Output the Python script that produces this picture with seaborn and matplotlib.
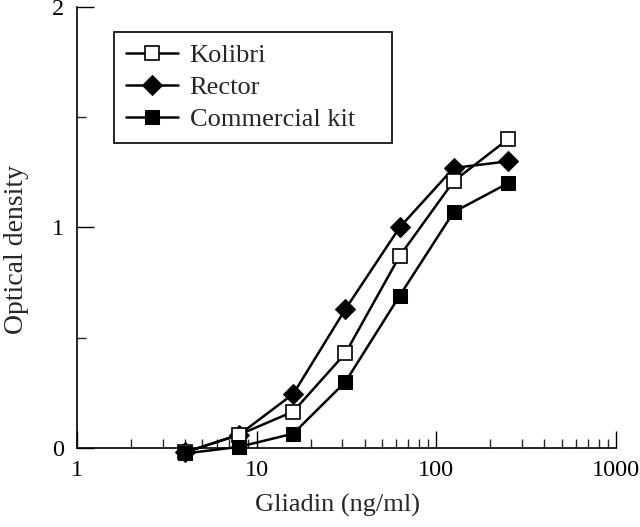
import matplotlib
matplotlib.use("Agg")
import matplotlib.pyplot as plt
import seaborn as sns
import pandas as pd
from matplotlib.ticker import FixedLocator, NullFormatter, LogLocator

sns.set_style("ticks")
plt.rcParams['font.family'] = ['Liberation Serif', 'DejaVu Serif']

x_kolibri = [4, 8, 16, 31.25, 62.5, 125, 250]
y_kolibri = [-0.02, 0.06, 0.165, 0.43, 0.87, 1.21, 1.40]
x_rector = [4, 8, 16, 31.25, 62.5, 125, 250]
y_rector = [-0.02, 0.06, 0.245, 0.63, 1.00, 1.27, 1.30]
x_kit = [4, 8, 16, 31.25, 62.5, 125, 250]
y_kit = [-0.025, 0.005, 0.065, 0.30, 0.69, 1.07, 1.20]

series = [
    ("Kolibri", x_kolibri, y_kolibri, dict(marker="s", markersize=9.5, markerfacecolor="white", markeredgecolor="black", markeredgewidth=1.2), 2),
    ("Rector", x_rector, y_rector, dict(marker="D", markersize=10, markerfacecolor="black", markeredgecolor="black"), 1),
    ("Commercial kit", x_kit, y_kit, dict(marker="s", markersize=9.5, markerfacecolor="black", markeredgecolor="black"), 3),
]

fig = plt.figure(figsize=(6.4, 5.27), dpi=100)
ax = fig.add_axes([0.12, 0.15, 0.8425, 0.8367])

for name, xs, ys, mk, z in series:
    df = pd.DataFrame({"x": xs, "y": ys})
    sns.lineplot(data=df, x="x", y="y", ax=ax, color="black", linewidth=1.8,
                 label=name, clip_on=False, zorder=z, **mk)

ax.set_xscale("log")
ax.set_xlim(1, 1000)
ax.set_ylim(0, 2)
ax.set_xticks([1, 10, 100, 1000])
ax.set_xticklabels(["1", "10", "100", "1000"])
ax.xaxis.set_minor_locator(LogLocator(base=10, subs=range(2, 10)))
ax.xaxis.set_minor_formatter(NullFormatter())
ax.set_yticks([0, 1, 2])
ax.set_yticklabels(["0", "1", "2"])
ax.yaxis.set_minor_locator(FixedLocator([0.5, 1.5]))

ax.tick_params(axis="both", which="major", direction="in", length=12, width=1, labelsize=17.5, colors="black")
ax.tick_params(axis="x", which="major", pad=9)
ax.tick_params(axis="y", which="major", pad=9)
ax.tick_params(axis="both", which="minor", direction="in", length=6.5, width=1)

sns.despine(ax=ax)
for s in ["left", "bottom"]:
    ax.spines[s].set_linewidth(1.2)
    ax.spines[s].set_color("black")

ax.set_xlabel("Gliadin (ng/ml)", fontsize=19)
ax.set_ylabel("Optical density", fontsize=20)
ax.xaxis.set_label_coords(0.483, -0.105)
ax.yaxis.set_label_coords(-0.088, 0.45)

leg = ax.legend(loc="upper left", bbox_to_anchor=(0.0686, 0.687, 0.516, 0.257),
                mode="expand", fontsize=19,
                frameon=True, fancybox=False, edgecolor="black", framealpha=1,
                handlelength=2.0, borderpad=0.45, labelspacing=0.32, handletextpad=0.42,
                borderaxespad=0)
leg.get_frame().set_linewidth(1.2)

fig.savefig("out.png", dpi=100)
